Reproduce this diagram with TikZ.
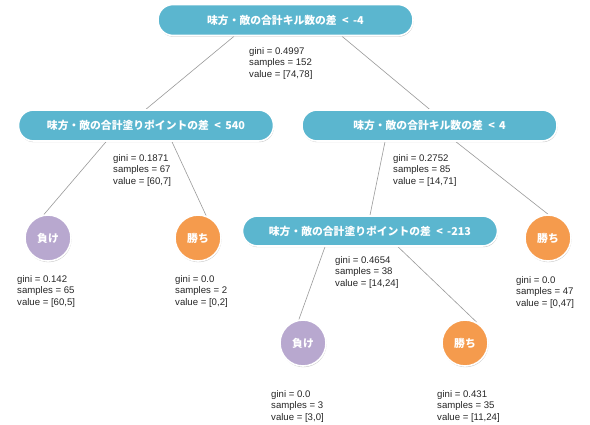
\documentclass[tikz,border=0pt]{standalone}
\usepackage{fontspec}
\setmainfont{Liberation Sans}
\newfontfamily\jp{Noto Sans CJK JP}
\usetikzlibrary{shadows,calc,backgrounds}
\definecolor{pillc}{HTML}{5BB6CF}
\definecolor{losec}{HTML}{B8A8CF}
\definecolor{winc}{HTML}{F59B4D}
\definecolor{edgec}{HTML}{9A9A9A}
\newcommand\gstats[3]{\begin{tabular}[t]{@{}l@{}}gini = #1\\samples = #2\\value = #3\end{tabular}}
\newcommand\cmplt{\hspace{0.5em}<\hspace{0.4em}}
\begin{document}
\begin{tikzpicture}[x=1pt,y=-1pt,
  pill/.style={rectangle, rounded corners=15pt, fill=pillc, draw=white, line width=1.6pt,
    minimum width=255pt, minimum height=31pt, inner sep=0pt, text=white,
    font=\jp\bfseries\fontsize{10.8}{12}\selectfont,
    drop shadow={shadow xshift=0.5pt, shadow yshift=-1.2pt, opacity=0.35, fill=black!60}},
  leaf/.style={circle, draw=white, line width=1.6pt, minimum size=46pt, inner sep=0pt,
    text=white, font=\jp\bfseries\fontsize{10.8}{12}\selectfont,
    drop shadow={shadow xshift=0.5pt, shadow yshift=-1.2pt, opacity=0.35, fill=black!60}},
  lose/.style={leaf, fill=losec},
  win/.style={leaf, fill=winc},
  stats/.style={anchor=base west, inner sep=0pt, text=black!85, font=\fontsize{9.6}{11.5}\selectfont},
  edge/.style={draw=edgec, line width=0.6pt}
]
\useasboundingbox (0,0) rectangle (590,424);
% nodes
\node[pill] (root) at (285.5,20) {味方・敵の合計キル数の差\cmplt-4};
\node[pill] (L1) at (146,125.5) {味方・敵の合計塗りポイントの差\cmplt540};
\node[pill] (R1) at (429.5,125.5) {味方・敵の合計キル数の差\cmplt4};
\node[pill, minimum height=30pt] (M) at (370,231) {味方・敵の合計塗りポイントの差\cmplt-213};
\node[lose] (LL) at (48,238) {負け};
\node[win] (LR) at (198,238) {勝ち};
\node[win] (RR) at (548,238) {勝ち};
\node[lose] (ML) at (303,343) {負け};
\node[win] (MR) at (465,343) {勝ち};
% stats
\node[stats] (sroot) at (249,54) {\gstats{0.4997}{152}{[74,78]}};
\node[stats] (sL1) at (113,161) {\gstats{0.1871}{67}{[60,7]}};
\node[stats] (sR1) at (393,161) {\gstats{0.2752}{85}{[14,71]}};
\node[stats] (sLL) at (17,282) {\gstats{0.142}{65}{[60,5]}};
\node[stats] (sLR) at (175,282) {\gstats{0.0}{2}{[0,2]}};
\node[stats] (sM) at (335,263) {\gstats{0.4654}{38}{[14,24]}};
\node[stats] (sRR) at (516,283) {\gstats{0.0}{47}{[0,47]}};
\node[stats] (sML) at (271,397) {\gstats{0.0}{3}{[3,0]}};
\node[stats] (sMR) at (437,397) {\gstats{0.431}{35}{[11,24]}};
% connectors
\begin{scope}[on background layer]
\fill[white] (0,0) rectangle (590,424);
\draw[edge] ($(root.south)+(-51.5,0)$) -- (L1.north);
\draw[edge] ($(root.south)+(56.5,0)$) -- (R1.north);
\draw[edge] ($(L1.south)+(-40,0)$) -- (LL.100);
\draw[edge] ($(L1.south)+(26,0)$) -- (LR.70);
\draw[edge] ($(R1.south)+(-44.5,0)$) -- (M.north);
\draw[edge] ($(R1.south)+(26.5,0)$) -- (RR.north);
\draw[edge] ($(M.south)+(-45,0)$) -- (ML.100);
\draw[edge] ($(M.south)+(28,0)$) -- (MR.60);
\end{scope}
\end{tikzpicture}
\end{document}
